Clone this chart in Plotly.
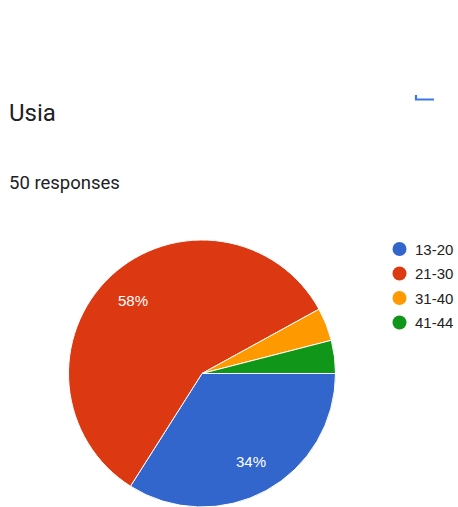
import math
import plotly.graph_objects as go

# Age-group survey results
categories = ["13-20", "21-30", "31-40", "41-44"]
counts = [17, 29, 2, 2]
colors = ["#3366cc", "#dc3912", "#ff9900", "#109618"]
question = "Usia"

W, H = 458, 507
total = sum(counts)

# pie geometry in pixels (margins are zero, so paper == pixels)
cx, cy, r = 202, 373.5, 133.5
dom_x = [(cx - r) / W, (cx + r) / W]
dom_y = [max(1 - (cy + r) / H, 0), 1 - (cy - r) / H]

# legend layout in pixels
leg_sym_x, leg_text_x, leg_top, leg_step = 399.5, 413, 249, 24.5

fig = go.Figure()
fig.add_trace(go.Pie(
    labels=categories,
    values=counts,
    marker=dict(colors=colors, line=dict(color="white", width=1)),
    sort=False,
    direction="clockwise",
    rotation=90,
    textinfo="none",
    hoverinfo="skip",
    showlegend=False,
    domain=dict(x=dom_x, y=dom_y),
))

# legend: round swatches on a pixel-space overlay axis
leg_y = [leg_top + i * leg_step for i in range(len(categories))]
fig.add_trace(go.Scatter(
    x=[leg_sym_x] * len(categories), y=leg_y, mode="markers",
    marker=dict(color=colors, size=14, symbol="circle"),
    hoverinfo="skip", showlegend=False, cliponaxis=False,
))

annotations = []
for cat, yy in zip(categories, leg_y):
    annotations.append(dict(
        x=leg_text_x, y=yy, xref="x", yref="y", text=cat, showarrow=False,
        xanchor="left", yanchor="middle",
        font=dict(family="Liberation Sans, Arial", size=15, color="#222222"),
    ))

# percentage labels at each slice's mid angle
start = 90.0
for v in counts:
    share = v / total
    sweep = share * 360
    mid = math.radians(start + sweep / 2)
    start += sweep
    if share < 0.05:
        continue
    annotations.append(dict(
        x=cx + 0.755 * r * math.sin(mid), y=cy - 0.755 * r * math.cos(mid),
        xref="x", yref="y",
        text=f"{round(share * 100)}%", showarrow=False,
        xanchor="center", yanchor="middle",
        font=dict(family="Liberation Sans, Arial", size=15, color="white"),
    ))

annotations.append(dict(
    x=7, y=113, xref="x", yref="y", text=question,
    showarrow=False, xanchor="left", yanchor="middle",
    font=dict(family="Roboto", size=24, color="#202124"),
))
annotations.append(dict(
    x=7, y=183, xref="x", yref="y",
    text=f"{total} responses", showarrow=False, xanchor="left", yanchor="middle",
    font=dict(family="Roboto", size=18.5, color="#202124"),
))

fig.update_layout(
    width=W, height=H,
    margin=dict(l=0, r=0, t=0, b=0),
    paper_bgcolor="white", plot_bgcolor="rgba(0,0,0,0)",
    xaxis=dict(visible=False, range=[0, W], domain=[0, 1], fixedrange=True),
    yaxis=dict(visible=False, range=[H, 0], domain=[0, 1], fixedrange=True),
    annotations=annotations,
    shapes=[dict(
        type="path", xref="x", yref="y",
        path="M 416,95 L 416,99.5 L 434,99.5",
        line=dict(color="#3b78e7", width=2.2),
    )],
    showlegend=False,
)

fig.write_html("out.html")
